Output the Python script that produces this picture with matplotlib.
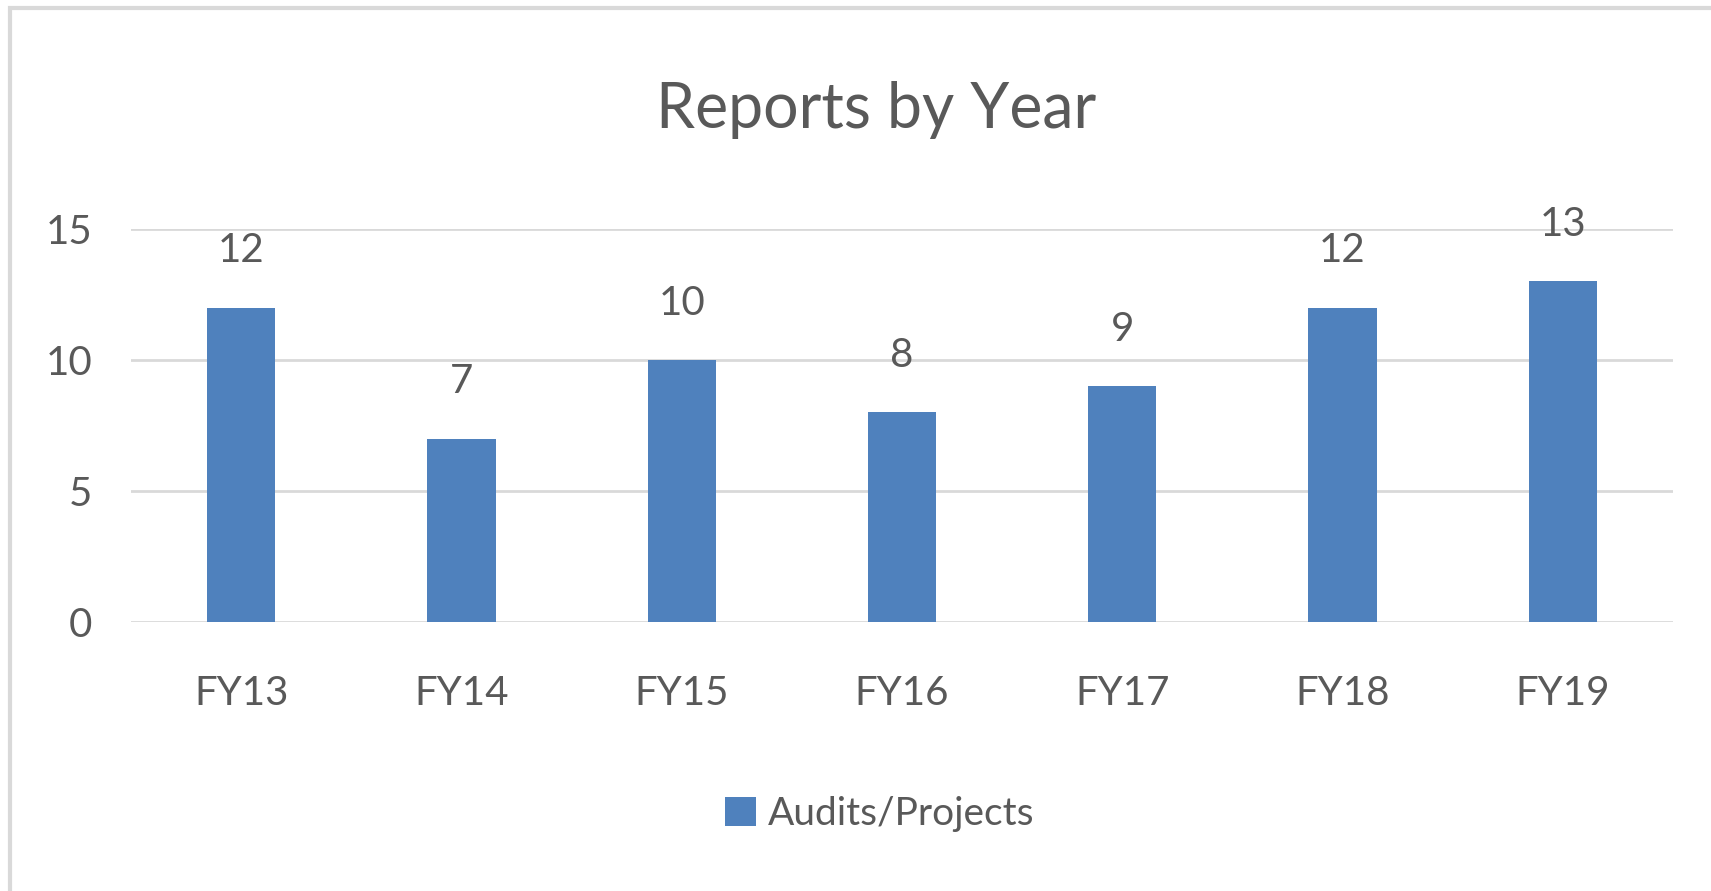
import matplotlib
matplotlib.use("Agg")
import matplotlib.pyplot as plt
from matplotlib.patches import Rectangle

years = ["FY13", "FY14", "FY15", "FY16", "FY17", "FY18", "FY19"]
reports = [12, 7, 10, 8, 9, 12, 13]
yticks = [0, 5, 10, 15]

text_col = "#595959"
bar_col = "#4F81BD"
grid_col = "#D9D9D9"

plt.rcParams['font.family'] = ['Lato', 'DejaVu Sans']

fig = plt.figure(figsize=(17.11, 8.91), dpi=100)
ax = fig.add_axes([131/1711, 1 - 622/891, (1673 - 131)/1711, (622 - 229)/891])

x = range(len(years))
bars = ax.bar(x, reports, width=0.31, color=bar_col, label="Audits/Projects", zorder=3)

for xi, v in zip(x, reports):
    ax.annotate(str(v), (xi, v), xytext=(0, 41), textcoords="offset points",
                ha="center", va="center", fontsize=29, color=text_col,
                annotation_clip=False, zorder=4)

ax.set_xlim(-0.5, len(years) - 0.5)
ax.set_ylim(0, 15)
ax.set_yticks(yticks)
ax.set_xticks(list(x))
ax.set_xticklabels(years)
ax.tick_params(axis="both", length=0, labelsize=29, labelcolor=text_col)
ax.tick_params(axis="y", pad=28)
ax.tick_params(axis="x", pad=38)
ax.yaxis.grid(True, color=grid_col, linewidth=2, zorder=0)
for s in ax.spines.values():
    s.set_visible(False)

fig.text(876/1711, 1 - 110/891, "Reports by Year", ha="center", va="center",
         fontsize=45, color=text_col)

leg = fig.legend(handles=[bars], labels=["Audits/Projects"], loc="center",
                 bbox_to_anchor=(880/1711, 1 - 814/891), frameon=False,
                 fontsize=28, handlelength=0.8, handleheight=0.8, handletextpad=0.3)
for t in leg.get_texts():
    t.set_color(text_col)

# chart frame
fig.patches.append(Rectangle((10/1711, -0.1), 1.2, 1 - 8/891 + 0.1, transform=fig.transFigure,
                             fill=False, edgecolor=grid_col, linewidth=3))

fig.savefig("out.png", dpi=100)
